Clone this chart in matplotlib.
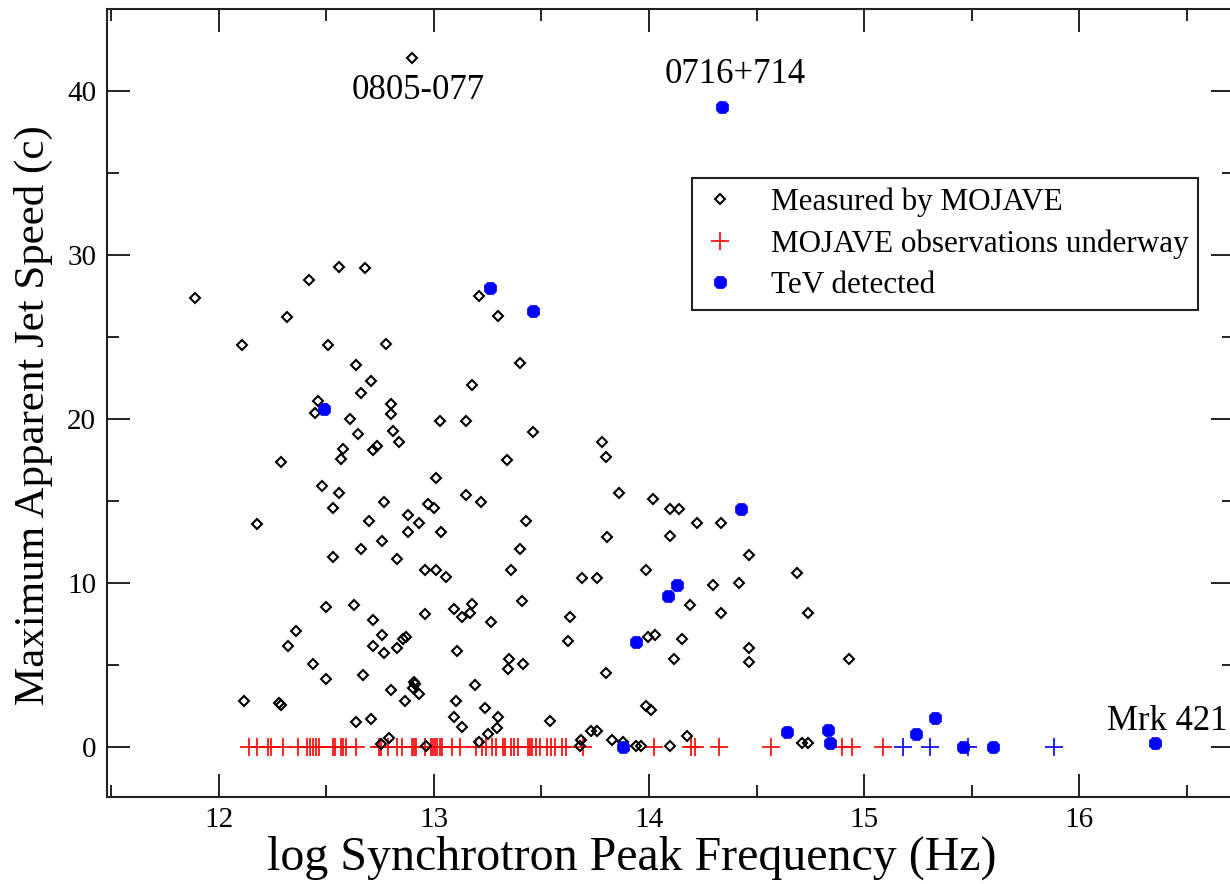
import matplotlib
matplotlib.use("Agg")
import matplotlib.pyplot as plt
from matplotlib.ticker import MultipleLocator

plt.rcParams["font.family"] = ["Liberation Serif", "DejaVu Serif"]

# Sources with measured jet speeds: (log nu_peak, beta_app max)
measured_x = [12.90, 11.89, 12.42, 12.56, 12.68, 13.21, 12.32, 12.11, 12.51, 12.78,
              12.64, 12.71, 12.66, 12.80, 12.80, 12.46, 12.45, 12.61, 12.65, 12.81,
              12.84, 12.58, 12.57, 12.72, 12.735, 12.29, 12.48, 12.56, 12.53, 12.77,
              12.18, 12.70, 12.76, 12.66, 12.53, 12.83, 13.30, 13.40, 13.18, 13.03,
              13.15, 13.46, 13.78, 13.80, 13.34, 13.01, 13.15, 13.22, 13.86, 14.02,
              14.10, 14.14, 12.975, 13.00, 12.88, 12.93, 12.88, 13.035, 13.43, 13.805,
              14.10, 13.40, 12.96, 13.01, 13.055, 13.36, 13.69, 13.76, 13.985, 14.225,
              14.335, 14.465, 14.69, 14.30, 14.42, 12.50, 12.63, 12.72, 12.96, 12.36,
              12.325, 12.76, 12.855, 12.87, 12.72, 12.77, 12.83, 12.44, 12.50, 12.67,
              12.91, 12.915, 12.905, 12.93, 12.80, 12.865, 12.12, 12.28, 12.29, 12.64,
              12.71, 12.79, 12.755, 12.965, 14.19, 14.335, 13.095, 13.13, 13.18, 13.17,
              13.265, 13.41, 13.635, 13.625, 13.11, 13.35, 13.345, 13.415, 13.995, 14.03,
              14.155, 14.115, 14.465, 14.465, 13.80, 13.19, 13.105, 13.095, 13.13, 13.24,
              13.30, 13.295, 13.25, 13.21, 13.54, 13.985, 14.01, 13.73, 13.76, 13.685,
              13.68, 13.83, 13.88, 13.94, 13.965, 14.10, 14.175, 14.74, 14.93, 14.71,
              14.74]
measured_y = [42.0, 27.4, 28.5, 29.3, 29.2, 27.5, 26.2, 24.5, 24.5, 24.6,
              23.3, 22.3, 21.6, 20.9, 20.3, 21.1, 20.4, 20.0, 19.1, 19.3,
              18.6, 18.2, 17.6, 18.1, 18.35, 17.4, 15.95, 15.5, 14.6, 14.95,
              13.6, 13.8, 12.6, 12.1, 11.6, 11.45, 26.3, 23.4, 22.1, 19.9,
              19.9, 19.2, 18.6, 17.7, 17.5, 16.4, 15.4, 14.95, 15.5, 15.15,
              14.5, 14.5, 14.85, 14.6, 14.15, 13.7, 13.15, 13.15, 13.8, 12.8,
              12.9, 12.1, 10.8, 10.8, 10.35, 10.8, 10.3, 10.3, 10.8, 13.7,
              13.7, 11.7, 10.6, 9.9, 10.0, 8.55, 8.65, 7.75, 8.1, 7.1,
              6.2, 6.85, 6.6, 6.75, 6.2, 5.75, 6.05, 5.05, 4.15, 4.4,
              3.95, 3.85, 3.6, 3.25, 3.5, 2.8, 2.8, 2.7, 2.55, 1.55,
              1.7, 0.55, 0.2, 0.1, 8.65, 8.2, 8.45, 7.95, 8.75, 8.2,
              7.65, 8.9, 7.95, 6.5, 5.85, 5.4, 4.75, 5.05, 6.75, 6.85,
              6.6, 5.4, 6.05, 5.2, 4.5, 3.8, 2.8, 1.85, 1.25, 2.4,
              1.85, 1.15, 0.8, 0.35, 1.6, 2.5, 2.3, 1.0, 1.0, 0.45,
              0.05, 0.45, 0.35, 0.1, 0.1, 0.1, 0.7, 8.2, 5.4, 0.25,
              0.25]

# Sources still being observed (plotted at zero speed)
underway_red_x = [12.142, 12.179, 12.231, 12.243, 12.298, 12.369, 12.411, 12.425, 12.438, 12.452,
                  12.466, 12.532, 12.541, 12.571, 12.580, 12.591, 12.638, 12.746, 12.755, 12.789,
                  12.828, 12.854, 12.900, 12.909, 12.919, 12.961, 12.986, 12.997, 13.006, 13.017,
                  13.028, 13.040, 13.086, 13.121, 13.195, 13.226, 13.241, 13.272, 13.288, 13.322,
                  13.332, 13.361, 13.373, 13.393, 13.437, 13.448, 13.458, 13.474, 13.494, 13.528,
                  13.544, 13.564, 13.598, 13.615, 13.692, 14.024, 14.194, 14.213, 14.326, 14.566,
                  14.896, 14.945, 15.089]
underway_blue_x = [15.181, 15.308, 15.484, 15.882]

# TeV-detected sources
tev_x = [14.34, 13.26, 13.46, 12.49, 14.43, 14.13, 14.09, 13.94, 13.88, 14.64,
         14.83, 14.84, 15.24, 15.33, 15.46, 15.60, 16.35]
tev_y = [39.0, 28.0, 26.6, 20.6, 14.5, 9.9, 9.2, 6.4, 0.0, 0.9,
         1.05, 0.25, 0.8, 1.8, 0.0, 0.0, 0.25]

source_labels = ["0805-077", "0716+714", "Mrk 421"]
source_label_pos = [(12.62, 39.53), (14.073, 40.5), (16.128, 1.055)]

fig = plt.figure(figsize=(12.30, 8.84), dpi=100)
ax = fig.add_axes([107.3 / 1230, 86.7 / 884, 1126.7 / 1230, 788.3 / 884])

ax.plot(underway_red_x, [0] * len(underway_red_x), linestyle="none", marker="+",
        markersize=12.5, markeredgewidth=1.2, color="#ff0000", zorder=2,
        label="MOJAVE observations underway")
ax.plot(underway_blue_x, [0] * len(underway_blue_x), linestyle="none", marker="+",
        markersize=12.5, markeredgewidth=1.2, color="#0000ff", zorder=2)
ax.plot(measured_x, measured_y, linestyle="none", marker="D", markersize=4.8,
        markerfacecolor="none", markeredgecolor="black", markeredgewidth=1.5,
        zorder=3, label="Measured by MOJAVE")
ax.plot(tev_x, tev_y, linestyle="none", marker="8", markersize=9.5,
        color="#0000ff", markeredgewidth=0.5, zorder=4, label="TeV detected")

for text, (tx, ty) in zip(source_labels, source_label_pos):
    ax.text(tx, ty, text, fontsize=25, ha="left", va="baseline", color="black")

ax.set_xlim(11.483, 16.719)
ax.set_ylim(-3.05, 45.0)
ax.xaxis.set_major_locator(MultipleLocator(1))
ax.xaxis.set_minor_locator(MultipleLocator(0.5))
ax.yaxis.set_major_locator(MultipleLocator(10))
ax.yaxis.set_minor_locator(MultipleLocator(5))
ax.tick_params(which="both", direction="in", top=True, right=True,
               width=1.4, color="#222222", labelsize=21, pad=8)
ax.tick_params(axis="x", which="both", pad=7)
ax.tick_params(which="major", length=16.5)
ax.tick_params(which="minor", length=8.5)
for spine in ax.spines.values():
    spine.set_linewidth(1.5)
    spine.set_color("#222222")

ax.set_xlabel("log Synchrotron Peak Frequency (Hz)", fontsize=34.5)
ax.set_ylabel("Maximum Apparent Jet Speed (c)", fontsize=31)
ax.xaxis.set_label_coords(0.4657, -0.049)
ax.yaxis.set_label_coords(-0.048, 0.485)

handles, labels = ax.get_legend_handles_labels()
order = [labels.index("Measured by MOJAVE"),
         labels.index("MOJAVE observations underway"),
         labels.index("TeV detected")]
leg = ax.legend([handles[i] for i in order], [labels[i] for i in order],
                loc="upper left", bbox_to_anchor=(0.519, 0.7856),
                fontsize=22.4, frameon=True, fancybox=False, framealpha=1,
                edgecolor="#222222", handlelength=1.2, handletextpad=1.05,
                borderpad=0.3, labelspacing=0.4, borderaxespad=0)
leg.get_frame().set_linewidth(1.5)

fig.savefig("out.png", dpi=100)
